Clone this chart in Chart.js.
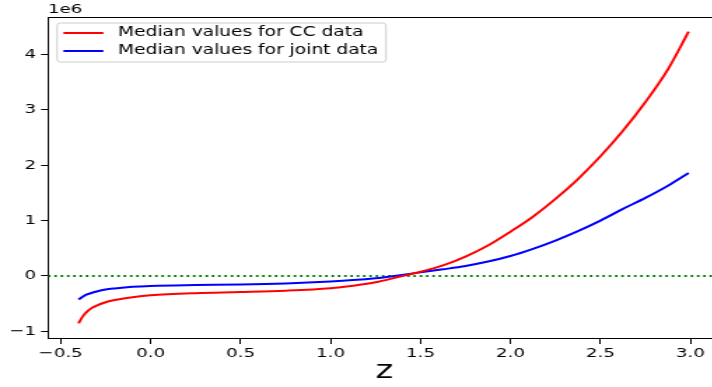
<!DOCTYPE html>
<html>
<head>
<meta charset="utf-8">
<script src="https://cdn.jsdelivr.net/npm/chart.js@4.4.1/dist/chart.umd.min.js"></script>
<style>
  html, body { margin: 0; padding: 0; background: #fff; overflow: hidden; }
  /* the figure is drawn narrow and stretched sideways */
  #wrap { width: 520px; height: 387px; transform: scaleX(1.4); transform-origin: 0 0; }
  #plot { display: block; }
</style>
</head>
<body>
<div id="wrap"><canvas id="plot" width="520" height="387"></canvas></div>
<script>
// z grid and median curves (values in absolute units, axis shows 1e6)
const zValues = [-0.4, -0.375, -0.35, -0.325, -0.3, -0.25, -0.2, -0.1, 0, 0.25, 0.5, 0.75, 1.0, 1.125, 1.25, 1.375, 1.5,
  1.625, 1.75, 1.875, 2.0, 2.125, 2.25, 2.375, 2.5, 2.625, 2.75, 2.875, 2.99];
const ccMedian = [-855000, -720000, -635000, -575000, -535000, -475000, -435000, -385000, -350000, -310000, -290000, -265000, -220000, -175000, -115000, -20000, 75000,
  190000, 350000, 550000, 800000, 1070000, 1390000, 1750000, 2160000, 2620000, 3140000, 3730000, 4410000];
const jointMedian = [-425000, -370000, -330000, -303000, -280000, -245000, -225000, -195000, -180000, -165000, -155000, -135000, -100000, -75000, -40000, 10000, 65000,
  120000, 180000, 260000, 360000, 490000, 640000, 810000, 1000000, 1210000, 1410000, 1630000, 1860000];

const xTickValues = [-0.5, 0.0, 0.5, 1.0, 1.5, 2.0, 2.5, 3.0];
const xTickLabels = ['\u22120.5', '0.0', '0.5', '1.0', '1.5', '2.0', '2.5', '3.0'];
const yTickValues = [-1e6, 0, 1e6, 2e6, 3e6, 4e6];
const yTickLabels = ['\u22121', '0', '1', '2', '3', '4'];

const xMin = -0.57, xMax = 3.17;
const yMin = -1.12e6, yMax = 4.675e6;

const font = 'DejaVu Sans';

const toPoints = (ys) => zValues.map((z, i) => ({ x: z, y: ys[i] }));

// frame, offset text and legend box
const extras = {
  id: 'extras',
  afterDraw(chart) {
    const ctx = chart.ctx;
    const a = chart.chartArea;
    ctx.save();
    ctx.strokeStyle = '#000';
    ctx.lineWidth = 1;
    ctx.beginPath();
    ctx.moveTo(a.left, a.top + 0.5);
    ctx.lineTo(a.right, a.top + 0.5);
    ctx.lineTo(a.right, a.bottom);
    ctx.stroke();

    ctx.fillStyle = '#000';
    ctx.font = '13px "' + font + '"';
    ctx.textAlign = 'left';
    ctx.textBaseline = 'alphabetic';
    ctx.fillText('1e6', a.left, a.top - 4);

    ctx.font = '13.3px "' + font + '"';
    const sets = chart.data.datasets.filter(d => d.label);
    const bx = a.left + 6.5, by = 23, bh = 39;
    let tw = 0;
    sets.forEach(d => { tw = Math.max(tw, ctx.measureText(d.label).width); });
    const tx = bx + 43.5;
    const bw = tx - bx + tw + 5.5;
    ctx.beginPath();
    ctx.roundRect(bx, by, bw, bh, 2.5);
    ctx.fillStyle = 'rgba(255,255,255,0.8)';
    ctx.fill();
    ctx.strokeStyle = '#cccccc';
    ctx.lineWidth = 1;
    ctx.stroke();
    sets.forEach((d, i) => {
      const ly = by + 10 + i * 18;
      ctx.strokeStyle = d.borderColor;
      ctx.lineWidth = 2;
      ctx.beginPath();
      ctx.moveTo(bx + 4.5, ly);
      ctx.lineTo(bx + 33, ly);
      ctx.stroke();
      ctx.fillStyle = '#000';
      ctx.textBaseline = 'middle';
      ctx.fillText(d.label, tx, ly);
    });
    ctx.restore();
  }
};

new Chart(document.getElementById('plot'), {
  type: 'line',
  data: {
    datasets: [
      {
        label: 'Median values for CC data',
        data: toPoints(ccMedian),
        borderColor: '#ff0000',
        borderWidth: 2,
        pointRadius: 0,
        cubicInterpolationMode: 'monotone'
      },
      {
        label: 'Median values for joint data',
        data: toPoints(jointMedian),
        borderColor: '#0000ff',
        borderWidth: 2,
        pointRadius: 0,
        cubicInterpolationMode: 'monotone'
      },
      {
        data: [{ x: xMin, y: 0 }, { x: xMax, y: 0 }],
        borderColor: '#008000',
        borderWidth: 2,
        borderDash: [1.8, 2.7],
        pointRadius: 0
      }
    ]
  },
  options: {
    responsive: false,
    devicePixelRatio: 1,
    animation: false,
    layout: { padding: { top: 17, right: 5, left: 0, bottom: 0 } },
    plugins: {
      legend: { display: false },
      tooltip: { enabled: false }
    },
    scales: {
      x: {
        type: 'linear',
        min: xMin,
        max: xMax,
        afterBuildTicks: (scale) => { scale.ticks = xTickValues.map(v => ({ value: v })); },
        afterFit: (scale) => { scale.height = 49; },
        ticks: {
          color: '#000',
          font: { family: font, size: 13 },
          padding: 2,
          maxRotation: 0,
          autoSkip: false,
          callback: (v) => xTickLabels[xTickValues.indexOf(v)]
        },
        grid: { drawOnChartArea: false, tickLength: 6, tickColor: '#000', tickWidth: 1 },
        border: { color: '#000', width: 1 },
        title: {
          display: true,
          text: 'z',
          color: '#000',
          font: { family: font, size: 24 },
          padding: { top: 0, bottom: 1 }
        }
      },
      y: {
        type: 'linear',
        min: yMin,
        max: yMax,
        afterBuildTicks: (scale) => { scale.ticks = yTickValues.map(v => ({ value: v })); },
        afterFit: (scale) => { scale.width = 34.3; },
        ticks: {
          color: '#000',
          font: { family: font, size: 13 },
          padding: 3.5,
          autoSkip: false,
          callback: (v) => yTickLabels[yTickValues.indexOf(v)]
        },
        grid: { drawOnChartArea: false, tickLength: 5, tickColor: '#000', tickWidth: 1 },
        border: { color: '#000', width: 1 }
      }
    }
  },
  plugins: [extras]
});
</script>
</body>
</html>
